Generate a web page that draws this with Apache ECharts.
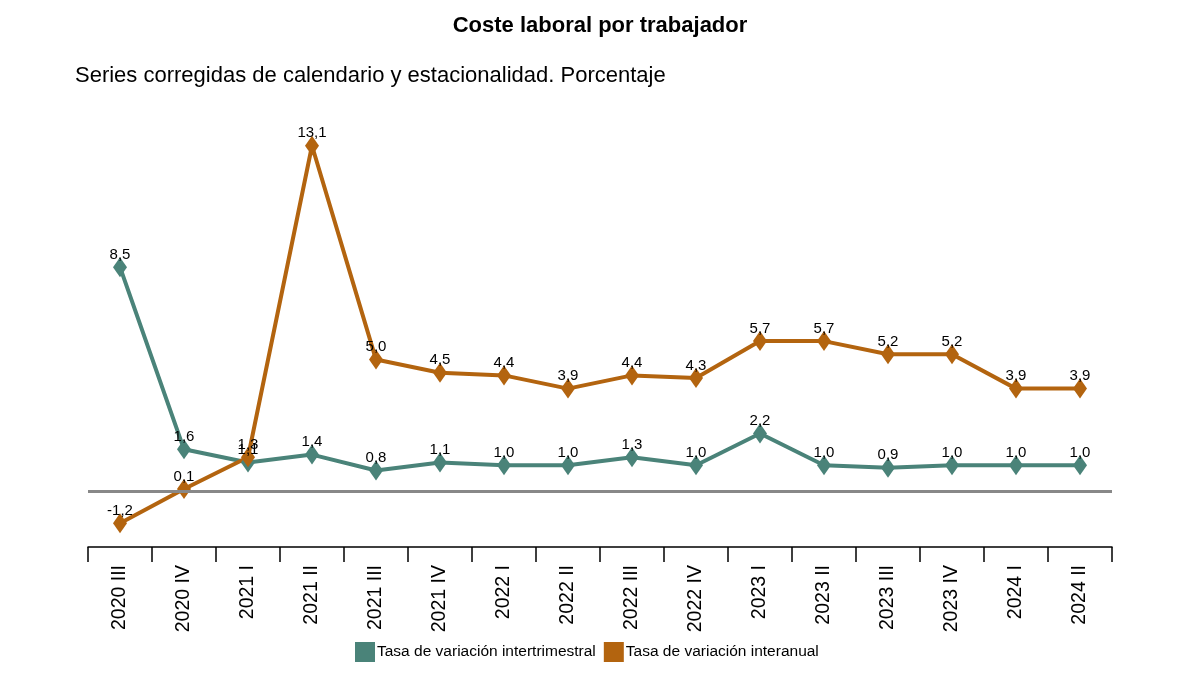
<!DOCTYPE html>
<html><head><meta charset="utf-8">
<script src="https://cdn.jsdelivr.net/npm/echarts@6/dist/echarts.min.js"></script>
<style>html,body{margin:0;padding:0;background:#fff}#c{width:1200px;height:675px}</style>
</head><body><div id="c"></div>
<script>
const categories = ["2020 III","2020 IV","2021 I","2021 II","2021 III","2021 IV","2022 I","2022 II","2022 III","2022 IV","2023 I","2023 II","2023 III","2023 IV","2024 I","2024 II"];
const intertrimestral = [8.5,1.6,1.1,1.4,0.8,1.1,1.0,1.0,1.3,1.0,2.2,1.0,0.9,1.0,1.0,1.0];
const interanual = [-1.2,0.1,1.3,13.1,5.0,4.5,4.4,3.9,4.4,4.3,5.7,5.7,5.2,5.2,3.9,3.9];
const seriesNames = ["Tasa de variación intertrimestral","Tasa de variación interanual"];
const colors = ["#4a8379","#b3640f"];

const fmt = p => p.value.toFixed(1).replace('.', ',');
const font = "'Liberation Sans', Arial, sans-serif";

function mkSeries(name, data, color, extra) {
  return Object.assign({
    name, type: 'line', data,
    symbol: 'diamond', symbolSize: [14, 20],
    lineStyle: { color, width: 4 },
    itemStyle: { color },
    label: { show: true, position: 'top', distance: -5, formatter: fmt, color: '#000', fontSize: 15, fontFamily: font },
    emphasis: { disabled: true }
  }, extra || {});
}

const chart = echarts.init(document.getElementById('c'));
chart.setOption({
  animation: false,
  textStyle: { fontFamily: font },
  title: [
    { text: 'Coste laboral por trabajador', left: 'center', top: 10, textStyle: { fontSize: 22, fontWeight: 'bold', color: '#000', fontFamily: font } },
    { text: 'Series corregidas de calendario y estacionalidad. Porcentaje', left: 70, top: 60, textStyle: { fontSize: 22, fontWeight: 'normal', color: '#000', fontFamily: font } }
  ],
  legend: {
    bottom: 8, left: 350, itemWidth: 20, itemHeight: 20, itemGap: 8,
    icon: 'rect',
    textStyle: { fontSize: 15.5, color: '#000', fontFamily: font, padding: [0,0,0,-3] },
    data: seriesNames
  },
  grid: { left: 88, right: 88, top: 122, bottom: 128, containLabel: false },
  xAxis: {
    type: 'category', data: categories, boundaryGap: true,
    axisLine: { onZero: false, lineStyle: { color: '#000', width: 1.5 } },
    axisTick: { show: true, length: 15, lineStyle: { color: '#000', width: 1.5 } },
    axisLabel: { rotate: 90, fontSize: 19.5, color: '#000', margin: 18, fontFamily: font },
    splitLine: { show: false }
  },
  yAxis: {
    type: 'value', min: -2.1, max: 14, show: false, splitLine: { show: false }
  },
  series: [
    mkSeries(seriesNames[0], intertrimestral, colors[0], {
      markLine: {
        silent: true, symbol: 'none', label: { show: false },
        lineStyle: { color: '#888', width: 3, type: 'solid' },
        data: [{ yAxis: 0 }]
      }
    }),
    mkSeries(seriesNames[1], interanual, colors[1])
  ]
});
</script></body></html>
